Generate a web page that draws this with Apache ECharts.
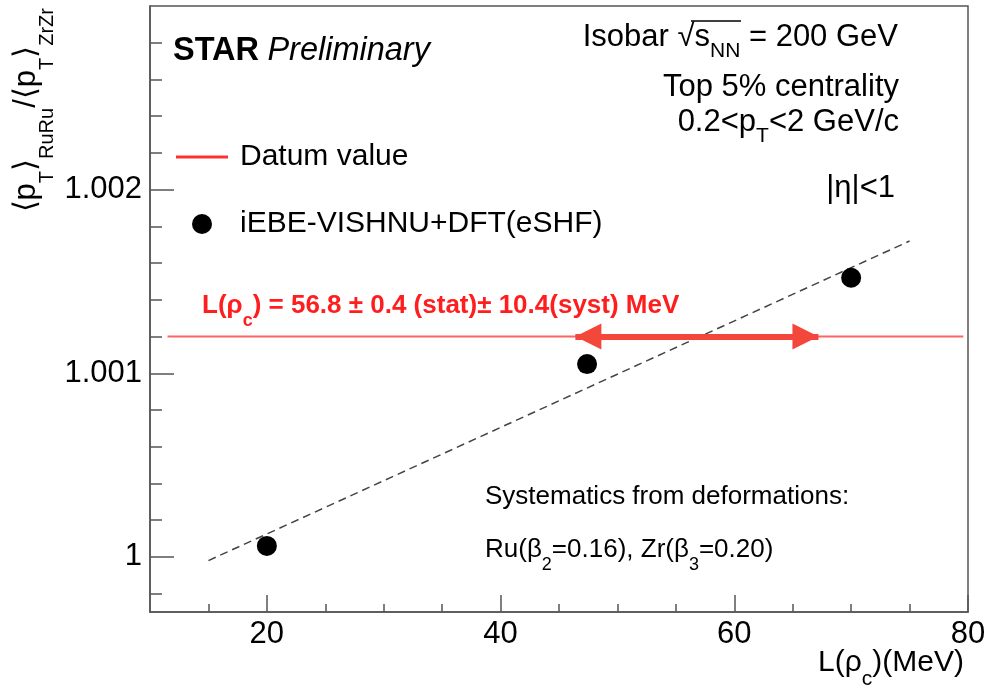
<!DOCTYPE html>
<html>
<head>
<meta charset="utf-8">
<script src="https://cdn.jsdelivr.net/npm/echarts@6/dist/echarts.min.js"></script>
<style>
  html, body { margin: 0; padding: 0; background: #fff; }
  #chart { width: 992px; height: 692px; }
</style>
</head>
<body>
<div id="chart"></div>
<script>
// Axis ticks
const xMajorTicks = [20, 40, 60, 80];
const xMinorTicks = [15, 25, 30, 35, 45, 50, 55, 65, 70, 75];
const yMajorTicks = [1, 1.001, 1.002];
const yTickLabels = ['1', '1.001', '1.002'];
const yMinorTicks = [0.9998, 1.0002, 1.0004, 1.0006, 1.0008, 1.0012, 1.0014,
                     1.0016, 1.0018, 1.0022, 1.0024, 1.0026, 1.0028];

// iEBE-VISHNU+DFT(eSHF) model points
const modelL = [20, 47.4, 70];
const modelRatio = [1.00006, 1.00105, 1.00152];

// Linear fit through the model points
const fitL = [15, 75];
const fitRatio = [0.99998, 1.00172];

// Measured ratio (datum value)
const datumL = [11.5, 79.6];
const datumRatio = 1.0012;

// Extracted symmetry-energy slope L(rho_c)
const lCentral = 56.8;
const lStat = 0.4;
const lSyst = 10.4;

const FONT = '"Liberation Sans", Arial, Helvetica, sans-serif';
const AXIS_COLOR = '#555';
const ARROW_HEAD = 26;

const chart = echarts.init(document.getElementById('chart'), null, { renderer: 'canvas' });

function pairs(xs, ys) {
  return xs.map((x, i) => [x, Array.isArray(ys) ? ys[i] : ys]);
}

// text helper for annotations
function label(x, y, text, rich, align, extra) {
  return Object.assign({
    type: 'text',
    x: x,
    y: y,
    silent: true,
    style: {
      text: text,
      rich: rich,
      align: align || 'left',
      verticalAlign: 'middle',
      fill: '#000',
      fontFamily: FONT,
      fontSize: 30
    }
  }, extra || {});
}

// main text plus a lowered subscript style
function subRich(main, sub, lineH, color, weight) {
  return {
    m: { fontFamily: FONT, fontSize: main, lineHeight: lineH, verticalAlign: 'middle', fill: color || '#000', fontWeight: weight || 'normal' },
    s: { fontFamily: FONT, fontSize: sub, lineHeight: sub, verticalAlign: 'bottom', fill: color || '#000', fontWeight: weight || 'normal' }
  };
}

const redText = 'L(ρ}{s|c}{m|) = ' + lCentral.toFixed(1) + ' \u00B1 ' + lStat.toFixed(1) +
  ' (stat)\u00B1 ' + lSyst.toFixed(1) + '(syst) MeV';

const option = {
  animation: false,
  backgroundColor: '#fff',
  grid: {
    left: 150, right: 24, top: 6, bottom: 80,
    show: true, borderColor: AXIS_COLOR, borderWidth: 1.5, backgroundColor: 'transparent'
  },
  legend: {
    orient: 'vertical',
    left: 171, top: 137,
    itemWidth: 52, itemHeight: 20, itemGap: 37,
    selectedMode: false,
    symbolKeepAspect: true,
    textStyle: { fontFamily: FONT, fontSize: 30, color: '#000', lineHeight: 20, padding: [0, 0, 0, 7] },
    data: [
      { name: 'Datum value', icon: 'path://M0,0H52V3H0Z' },
      { name: 'iEBE-VISHNU+DFT(eSHF)', icon: 'circle' }
    ]
  },
  xAxis: [
    {
      type: 'value', min: 10, max: 80, position: 'bottom',
      axisLine: { show: true, lineStyle: { color: AXIS_COLOR, width: 1.5 } },
      axisTick: { show: true, inside: true, length: 17, customValues: xMajorTicks, lineStyle: { color: AXIS_COLOR, width: 1.5 } },
      axisLabel: { show: true, customValues: xMajorTicks, margin: 7, fontFamily: FONT, fontSize: 31, color: '#000' },
      splitLine: { show: false }
    },
    {
      type: 'value', min: 10, max: 80, position: 'bottom', offset: 0,
      axisLine: { show: false },
      axisTick: { show: true, inside: true, length: 8, customValues: xMinorTicks, lineStyle: { color: AXIS_COLOR, width: 1.5 } },
      axisLabel: { show: false },
      splitLine: { show: false }
    }
  ],
  yAxis: [
    {
      type: 'value', min: 0.9997, max: 1.003, position: 'left',
      axisLine: { show: true, lineStyle: { color: AXIS_COLOR, width: 1.5 } },
      axisTick: { show: true, inside: true, length: 24, customValues: yMajorTicks, lineStyle: { color: AXIS_COLOR, width: 1.5 } },
      axisLabel: {
        show: true, customValues: yMajorTicks, margin: 8, fontFamily: FONT, fontSize: 31, color: '#000',
        formatter: function (v) {
          for (let i = 0; i < yMajorTicks.length; i++) {
            if (Math.abs(yMajorTicks[i] - v) < 1e-9) return yTickLabels[i];
          }
          return '';
        }
      },
      splitLine: { show: false }
    },
    {
      type: 'value', min: 0.9997, max: 1.003, position: 'left', offset: 0,
      axisLine: { show: false },
      axisTick: { show: true, inside: true, length: 12, customValues: yMinorTicks, lineStyle: { color: AXIS_COLOR, width: 1.5 } },
      axisLabel: { show: false },
      splitLine: { show: false }
    }
  ],
  series: [
    {
      name: 'Datum value',
      type: 'line',
      data: pairs(datumL, datumRatio),
      symbol: 'none',
      lineStyle: { color: '#ff6464', width: 2 },
      itemStyle: { color: '#ff3030' },
      z: 2,
      // systematic range of L(rho_c), arrow tips sit on the range ends
      markLine: {
        silent: true,
        symbol: ['triangle', 'triangle'],
        symbolSize: ARROW_HEAD,
        symbolOffset: [[0, ARROW_HEAD / 2], [0, ARROW_HEAD / 2]],
        label: { show: false },
        lineStyle: { color: '#f4473c', width: 6, type: 'solid' },
        itemStyle: { color: '#f4473c' },
        data: [[
          { coord: [lCentral - lSyst, datumRatio] },
          { coord: [lCentral + lSyst, datumRatio] }
        ]]
      }
    },
    {
      name: 'fit',
      type: 'line',
      data: pairs(fitL, fitRatio),
      symbol: 'none',
      lineStyle: { color: '#444', width: 1.5, type: [8, 5] },
      z: 3
    },
    {
      name: 'iEBE-VISHNU+DFT(eSHF)',
      type: 'scatter',
      data: pairs(modelL, modelRatio),
      symbol: 'circle',
      symbolSize: 20,
      itemStyle: { color: '#000', opacity: 1 },
      z: 4
    }
  ],
  graphic: [
    // y-axis title, rotated
    label(26, 8,
      '{m|⟨p}{s|T}{m|⟩}{s|RuRu}{m|/⟨p}{s|T}{m|⟩}{s|ZrZr}',
      subRich(31, 20, 62), 'right', { rotation: Math.PI / 2 }),
    // x-axis title
    label(964, 663, '{m|L(ρ}{s|c}{m|)(MeV)}', subRich(30, 21, 54), 'right'),
    // experiment tag
    label(173, 51, '{b|STAR} {i|Preliminary}', {
      b: { fontFamily: FONT, fontSize: 32.5, fontWeight: 'bold', fill: '#000' },
      i: { fontFamily: FONT, fontSize: 32.5, fontStyle: 'italic', fill: '#000' }
    }, 'left'),
    // collision system and cuts
    label(898, 37, '{m|Isobar √s}{s|NN}{m| = 200 GeV}', subRich(31, 21, 49), 'right'),
    { type: 'line', silent: true, shape: { x1: 691, y1: 21, x2: 741, y2: 21 }, style: { stroke: '#000', lineWidth: 1.5 } },
    label(899, 87, '{m|Top 5% centrality}', subRich(31, 21, 49), 'right'),
    label(899, 122, '{m|0.2<p}{s|T}{m|<2 GeV/c}', subRich(31, 21, 49), 'right'),
    label(895, 188, '{m||η|<1}', subRich(31, 21, 49), 'right'),
    // extracted value
    label(202, 306, '{m|' + redText + '}', subRich(26, 18, 48, '#ff1e1e', 'bold'), 'left'),
    // systematics note
    label(485, 497, '{m|Systematics from deformations:}', subRich(26, 18, 48), 'left'),
    label(485, 550, '{m|Ru(β}{s|2}{m|=0.16), Zr(β}{s|3}{m|=0.20)}', subRich(26, 18, 48), 'left')
  ]
};

chart.setOption(option);
</script>
</body>
</html>
